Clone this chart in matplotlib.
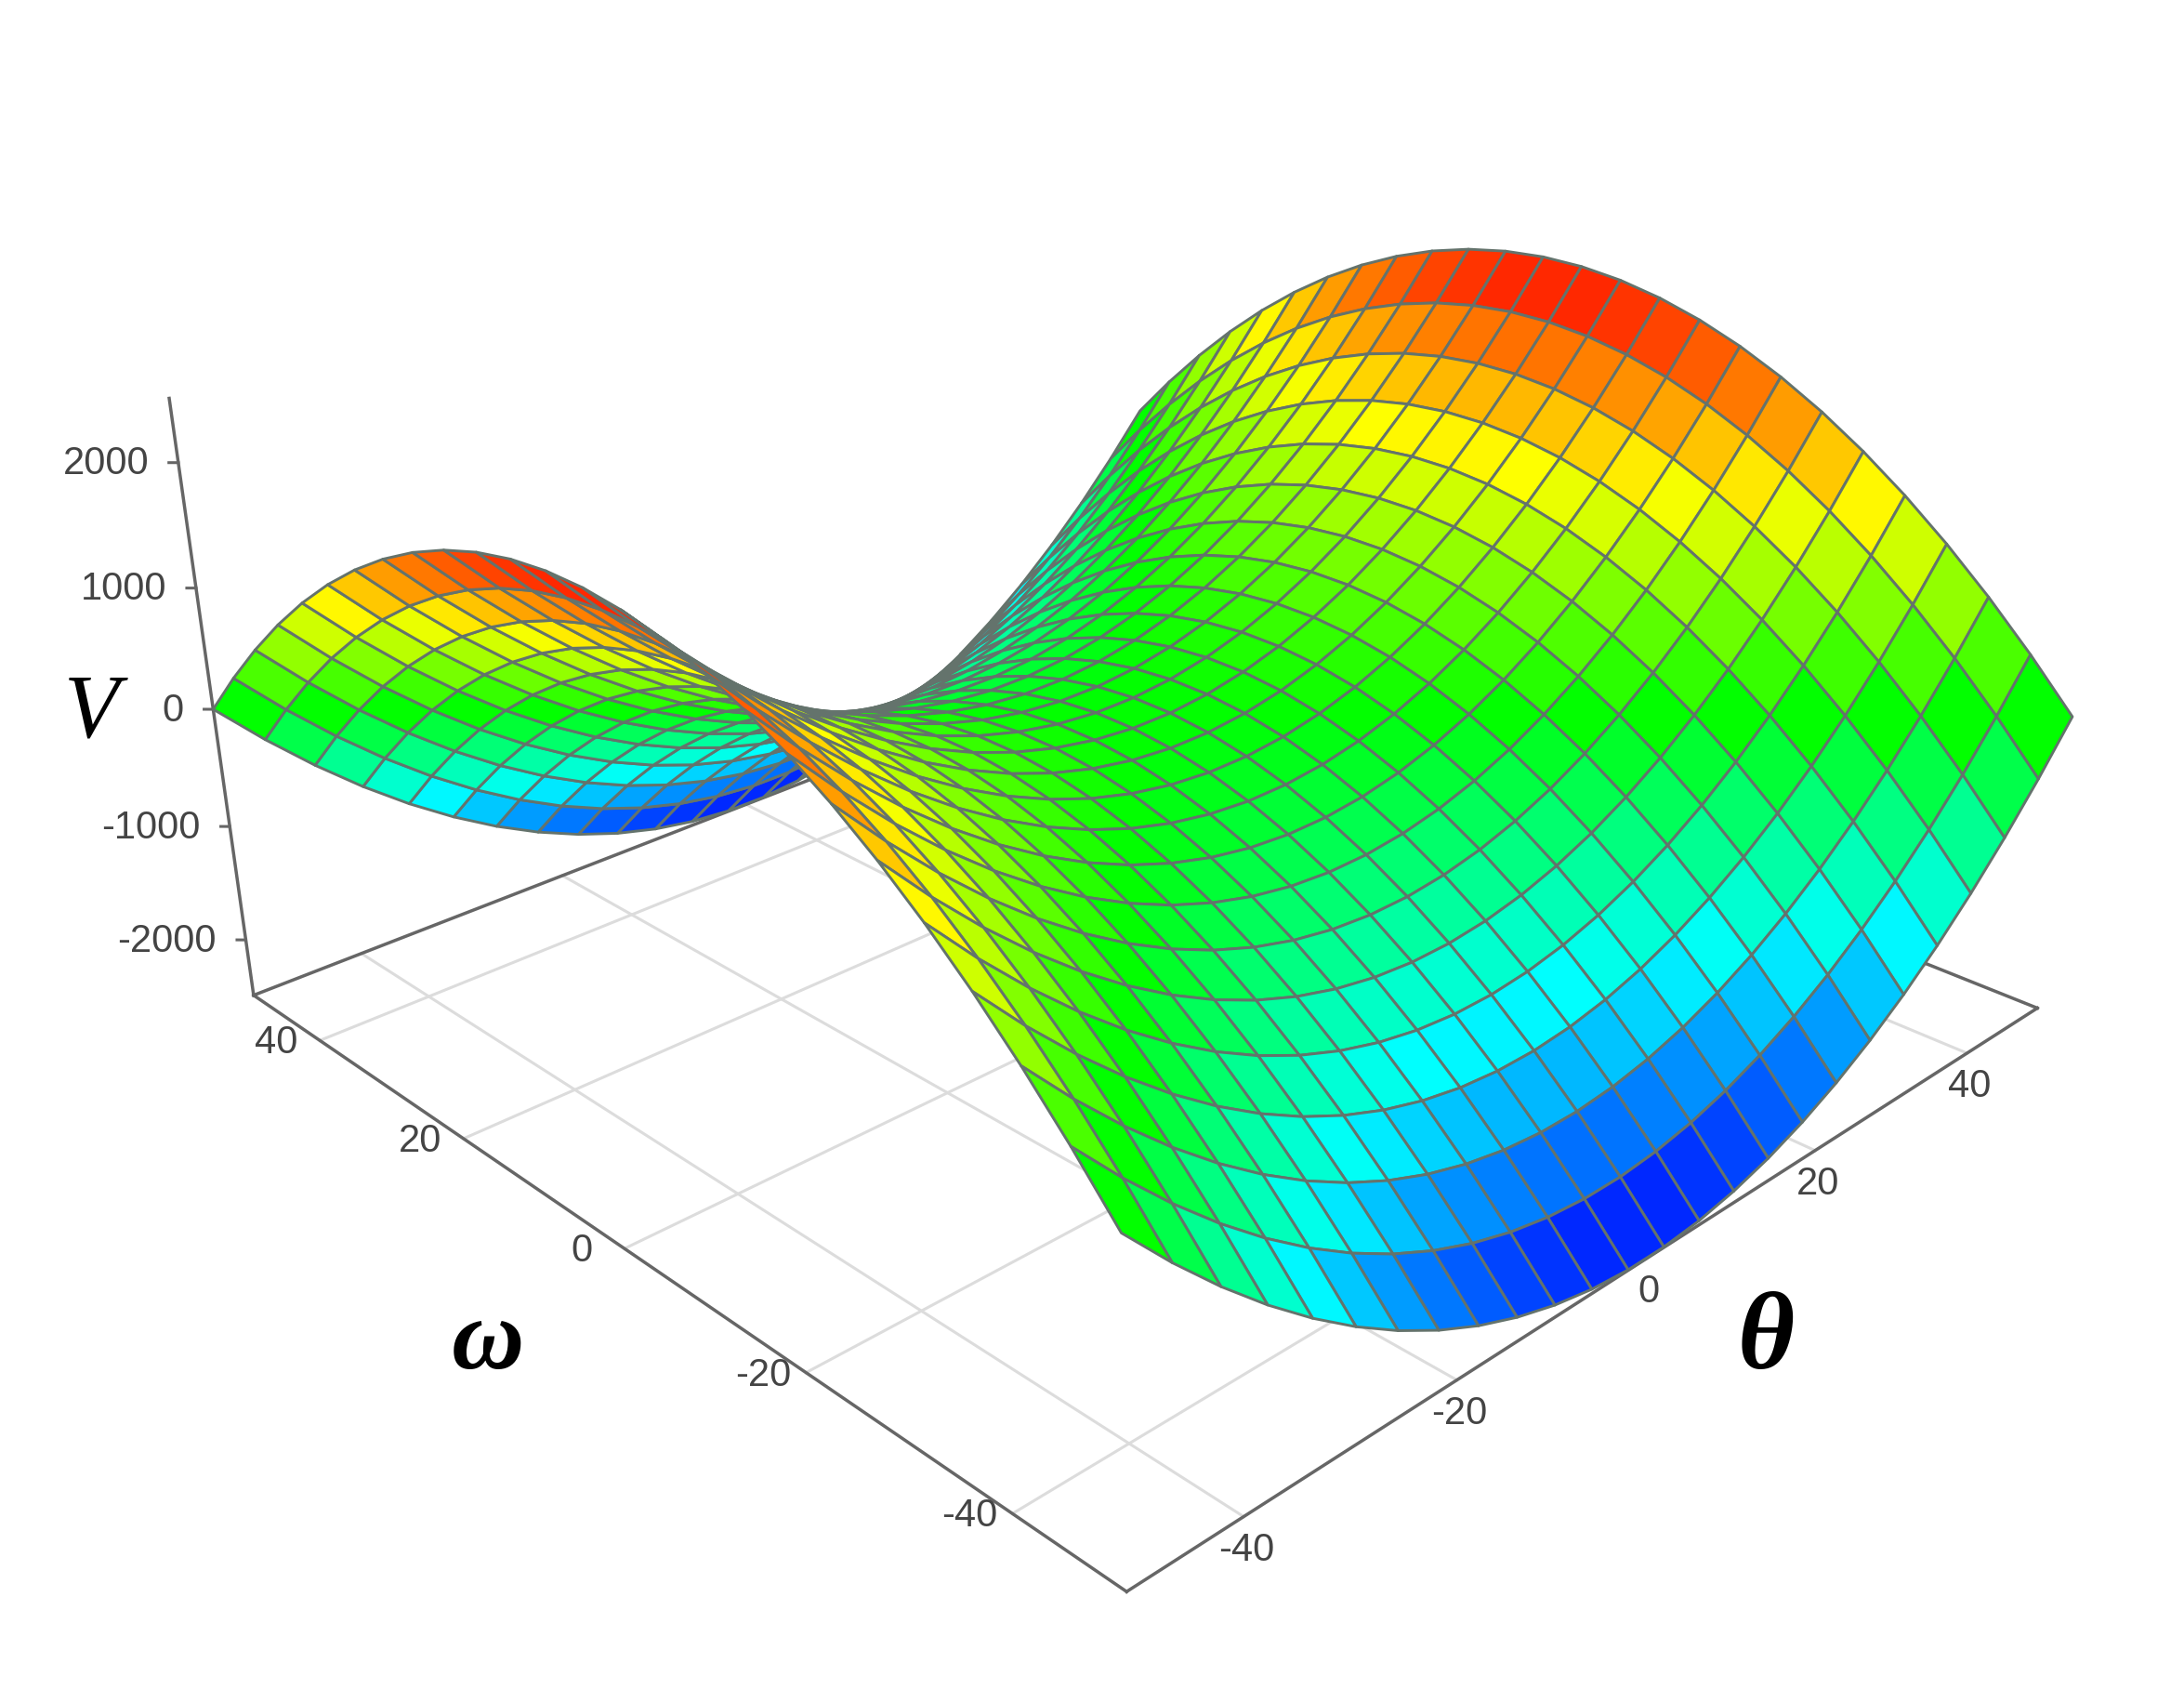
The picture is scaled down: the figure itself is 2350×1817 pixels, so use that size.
import numpy as np
import matplotlib
matplotlib.use('Agg')
import matplotlib.pyplot as plt
from matplotlib.colors import LinearSegmentedColormap
from mpl_toolkits.mplot3d import proj3d

theta_values = [-50,-46,-42,-38,-34,-30,-26,-22,-18,-14,-10,-6,-2,2,6,10,14,18,22,26,30,34,38,42,46,50]
omega_values = [-50,-46,-42,-38,-34,-30,-26,-22,-18,-14,-10,-6,-2,2,6,10,14,18,22,26,30,34,38,42,46,50]
v_from_theta = [2500,2116,1764,1444,1156,900,676,484,324,196,100,36,4,4,36,100,196,324,484,676,900,1156,1444,1764,2116,2500]
v_from_omega = [-2500,-2116,-1764,-1444,-1156,-900,-676,-484,-324,-196,-100,-36,-4,-4,-36,-100,-196,-324,-484,-676,-900,-1156,-1444,-1764,-2116,-2500]
grid_ticks = [-40,-20,0,20,40]
z_ticks = [-2000,-1000,0,1000,2000]

k = 2350/1568
Wf, Hf = 2350., 1817.
fig = plt.figure(figsize=(23.5,18.17),dpi=100,facecolor='white')
ax = fig.add_axes([0.0683,-0.0048,0.8774,1.1347],projection='3d')
ax.set_xlim(-50,50); ax.set_ylim(-50,50); ax.set_zlim(-2500,2500)
ax.view_init(24.252,-133.472,0.69)
ax.set_proj_type('persp',focal_length=0.309)
ax.set_box_aspect((1,1.025,0.508))
ax.set_axis_off(); ax.computed_zorder=False

TH,OM=np.meshgrid(theta_values,omega_values,indexing='ij')
V=np.add.outer(np.array(v_from_theta),np.array(v_from_omega))
cmap=LinearSegmentedColormap.from_list('r',[(0,0,1),(0,1,1),(0,1,0),(1,1,0),(1,0,0)])
Vc=(V[:-1,:-1]+V[1:,:-1]+V[:-1,1:]+V[1:,1:])/4
fc=cmap((Vc+2500)/5000)

floor=-2500
for t in grid_ticks:
    ax.plot([t,t],[-50,50],[floor,floor],color='#dcdcdc',lw=2.2,zorder=1,clip_on=False)
    ax.plot([-50,50],[t,t],[floor,floor],color='#dcdcdc',lw=2.2,zorder=1,clip_on=False)
for t in z_ticks:
    ax.plot([-50,-50.5],[50,50.5],[t,t],color='#666666',lw=2.2,zorder=1.5,clip_on=False)
for xs,ys,zs in (([-50,-50],[50,-50],[floor,floor]),([-50,50],[-50,-50],[floor,floor]),([-50,50],[50,50],[floor,floor]),([50,50],[-50,50],[floor,floor]),([-50,-50],[50,50],[floor,2500])):
    ax.plot(xs,ys,zs,color='#666666',lw=2.5,zorder=1.5,clip_on=False)
surf=ax.plot_surface(TH,OM,V,facecolors=fc,edgecolor='#64736c',linewidth=2.1,shade=False,rstride=1,cstride=1,antialiased=True,zorder=2)
surf.set_clip_on(False)

M=ax.get_proj()
def label(x,y,z,s,dx,dy,ha='center'):
    u,v,_=proj3d.proj_transform(x,y,z,M)
    ax.annotate(s,xy=(u,v),xycoords='data',xytext=(dx*k,-dy*k),textcoords='offset pixels',ha=ha,va='center',
                fontsize=30,family='Liberation Sans',color='#444444',annotation_clip=False,zorder=3)
for t in grid_ticks:
    label(-50,t,floor,str(t),-31,2)
    label(t,-50,floor,str(t),2,24)
for t in z_ticks:
    label(-50,50,t,str(t),-21,1,ha='right')

fig.text(66*k/Wf,1-513*k/Hf,'V',fontsize=70,family='Liberation Serif',style='italic',ha='center',va='center')
fig.text(350*k/Wf,1-965*k/Hf,'ω',fontsize=78,family='Liberation Serif',style='italic',weight='bold',ha='center',va='center')
fig.text(1268*k/Wf,1-963*k/Hf,'θ',fontsize=85,family='Liberation Serif',style='italic',weight='bold',ha='center',va='center')
fig.savefig('out.png',dpi=100)
